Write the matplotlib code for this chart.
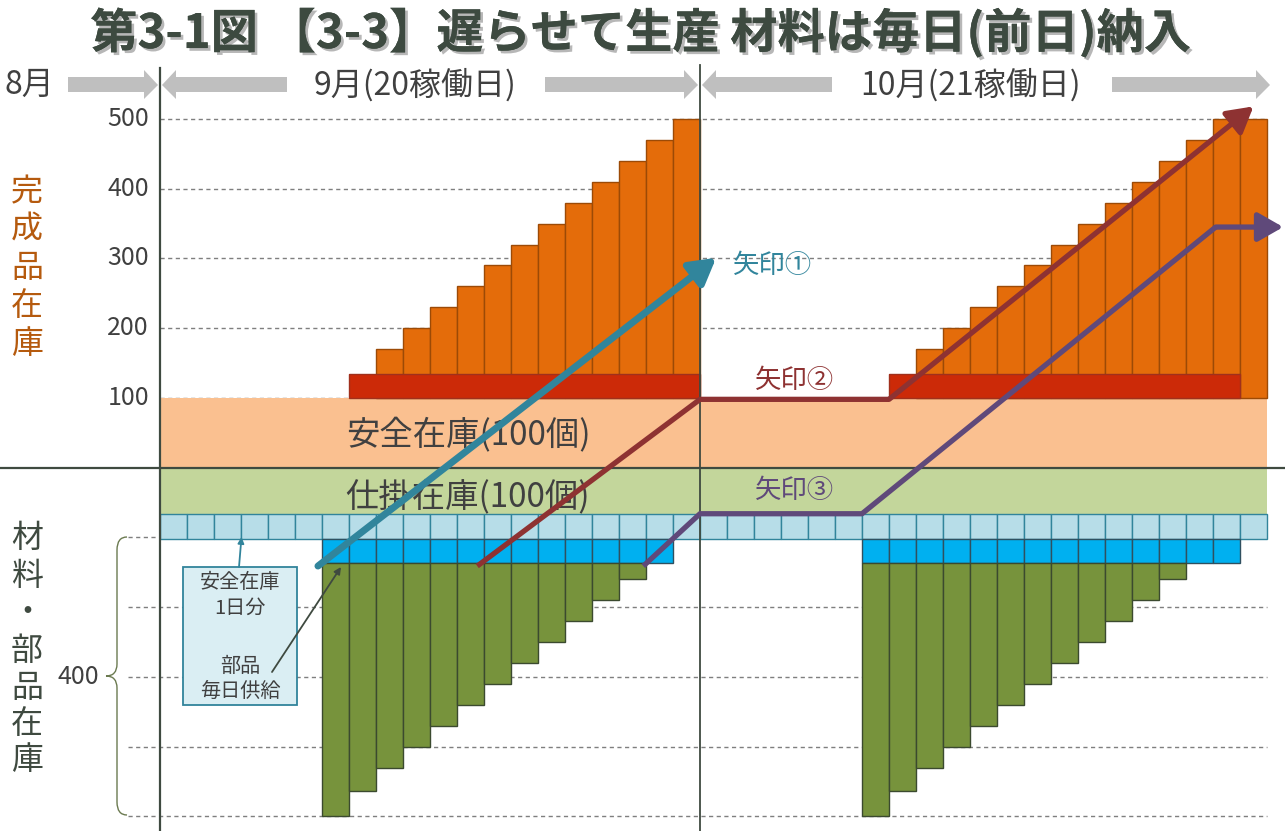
import matplotlib.pyplot as plt
import matplotlib.patheffects as pe
from matplotlib.patches import Rectangle, Polygon, PathPatch
from matplotlib.path import Path

plt.rcParams['font.family'] = ['Noto Sans CJK JP', 'DejaVu Sans']

# ---- data ----
sep_workdays = 20
oct_workdays = 21
total_days = sep_workdays + oct_workdays

# finished goods stock (完成品在庫), bars standing on the safety stock
fg_days = list(range(8, 20)) + list(range(28, 41))
fg_stock = [170, 200, 230, 260, 290, 320, 350, 380, 410, 440, 470, 500,
            170, 200, 230, 260, 290, 320, 350, 380, 410, 440, 470, 500, 500]
safety_stock = 100

# daily production (red band)
prod_days = list(range(7, 20)) + list(range(27, 40))
prod_lot = 35

# work in process band / 1-day parts buffer
wip_bottom = -67
buffer_bottom = -102

# daily parts supply (cyan) and parts stock (green bars)
supply_days = list(range(6, 19)) + list(range(26, 40))
supply_bottom = -137
parts_days = list(range(6, 18)) + list(range(26, 38))
parts_stock = [400, 364, 330, 300, 270, 240, 210, 180, 150, 120, 90, 60,
               400, 364, 330, 300, 270, 240, 210, 180, 150, 120, 90, 60]
parts_zero = -100

upper_ticks = [100, 200, 300, 400, 500]
lower_grid = [0, 100, 200, 300, 400]

# arrows: (day, stock)
arrow1 = [(5.85, -141), (20.6, 301)]
arrow2 = [(11.75, -141), (20.0, 98), (27.0, 98), (40.5, 518)]
arrow3 = [(17.9, -141), (20.0, -66), (26.0, -66), (39.1, 345), (41.6, 345)]

# ---- layout helpers (pixel -> data) ----
W, H = 1285, 831
X0, DX = 160, 27.0
Y0, DY = 467.7, 0.6975


def px(x):
    return (x - X0) / DX


def py(y):
    return (Y0 - y) / DY


dark = '#3F4A40'
fig = plt.figure(figsize=(W / 100, H / 100), dpi=100)
ax = fig.add_axes([0, 0, 1, 1])
ax.set_xlim(px(0), px(W))
ax.set_ylim(py(H), py(0))
ax.axis('off')

# grid lines
for t in upper_ticks:
    ax.plot([0, total_days], [t, t], color='#7F7F7F', lw=1, dashes=(3, 2.5), zorder=1)
    ax.text(px(149), t, str(t), ha='right', va='center', fontsize=18, color='#404040')
for g in lower_grid:
    ax.plot([px(128), total_days], [parts_zero - g, parts_zero - g], color='#7F7F7F',
            lw=1, dashes=(3, 2.5), zorder=1)

# safety stock and wip bands
ax.add_patch(Rectangle((0, 0), total_days, safety_stock, fc='#FAC090', ec='none', zorder=2))
ax.add_patch(Rectangle((0, wip_bottom), total_days, -wip_bottom, fc='#C3D69B', ec='none', zorder=2))
ax.bar(range(total_days), buffer_bottom - wip_bottom, bottom=wip_bottom, width=1, align='edge',
       color='#B7DDE8', edgecolor='#31849B', lw=1, zorder=3)

# finished goods
ax.bar(fg_days, [s - safety_stock for s in fg_stock], bottom=safety_stock, width=1, align='edge',
       color='#E46C0A', edgecolor='#9C4A06', lw=1, zorder=3)
ax.bar(prod_days, prod_lot, bottom=safety_stock, width=1, align='edge',
       color='#CC2A08', edgecolor='none', lw=0, zorder=4)
for start, end in [(7, 20), (27, 40)]:
    ax.add_patch(Rectangle((start, safety_stock), end - start, prod_lot, fc='none',
                           ec='#A0301C', lw=1, zorder=4))

# parts
ax.bar(supply_days, supply_bottom - buffer_bottom, bottom=buffer_bottom, width=1, align='edge',
       color='#00B0F0', edgecolor='#2F5060', lw=1, zorder=3)
ax.bar(parts_days, [parts_zero - s - supply_bottom for s in parts_stock], bottom=supply_bottom,
       width=1, align='edge', color='#77933C', edgecolor='#3B4A2F', lw=1, zorder=3)

# axes lines
ax.plot([px(0), px(W)], [0, 0], color=dark, lw=1.6, zorder=5)
ax.plot([0, 0], [py(68), py(H)], color=dark, lw=1.6, zorder=5)
ax.plot([sep_workdays, sep_workdays], [py(65), py(H)], color=dark, lw=1.3, zorder=5)

# big arrows
for pts, col, lw in [(arrow1, '#31859C', 5.0), (arrow2, '#8E3232', 3.8), (arrow3, '#5F497A', 3.8)]:
    xs = [p[0] for p in pts]
    ys = [p[1] for p in pts]
    ax.plot(xs[:-1], ys[:-1], color=col, lw=lw, zorder=6, solid_capstyle='butt')
    ax.annotate('', xy=pts[-1], xytext=pts[-2], zorder=6,
                arrowprops=dict(arrowstyle='-|>,head_length=0.7,head_width=0.4', color=col, lw=lw,
                                mutation_scale=22, shrinkA=0, shrinkB=0))

ax.text(px(733), py(265), '矢印①', ha='left', va='center', fontsize=19, color='#31859C', zorder=7)
ax.text(px(795), py(380), '矢印②', ha='center', va='center', fontsize=19, color='#8E3232', zorder=7)
ax.text(px(795), py(490), '矢印③', ha='center', va='center', fontsize=19, color='#5F497A', zorder=7)

ax.text(px(468), py(436), '安全在庫(100個)', ha='center', va='center', fontsize=24, color='#404040', zorder=5)
ax.text(px(468), py(497), '仕掛在庫(100個)', ha='center', va='center', fontsize=24, color='#404040', zorder=5)

# note box
ax.add_patch(Rectangle((px(183), py(705)), px(297) - px(183), py(567) - py(705),
                       fc='#DAEEF3', ec='#31849B', lw=1.3, zorder=7))
for s, y in [('安全在庫', 583), ('1日分', 608), ('部品', 666), ('毎日供給', 691)]:
    ax.text(px(240), py(y), s, ha='center', va='center', fontsize=14.5, color='#404040', zorder=8)
ax.annotate('', xy=(px(241.5), py(537)), xytext=(px(239), py(567)), zorder=8,
            arrowprops=dict(arrowstyle='-|>', color='#31849B', lw=1.3, mutation_scale=9,
                            shrinkA=0, shrinkB=0))
ax.annotate('', xy=(px(341), py(567)), xytext=(px(272), py(672)), zorder=8,
            arrowprops=dict(arrowstyle='-|>', color=dark, lw=1.3, mutation_scale=10,
                            shrinkA=0, shrinkB=0))

# left side labels
for i, ch in enumerate('完成品在庫'):
    ax.text(px(27), py(192 + 38 * i), ch, ha='center', va='center', fontsize=23, color='#B55A0E')
for ch, y in zip('材料・部品在庫', [538, 576, 613, 651, 688, 724, 760]):
    ax.text(px(27), py(y), ch, ha='center', va='center', fontsize=23, color=dark)
ax.text(px(99), py(677), '400', ha='right', va='center', fontsize=18, color='#404040')

brace = [(127, 537), (117, 537), (117, 550), (117, 664), (117, 676), (106, 676),
         (106, 676), (117, 676), (117, 688), (117, 802), (117, 815), (127, 815)]
codes = [Path.MOVETO, Path.CURVE3, Path.CURVE3, Path.LINETO, Path.CURVE3, Path.CURVE3,
         Path.MOVETO, Path.CURVE3, Path.CURVE3, Path.LINETO, Path.CURVE3, Path.CURVE3]
ax.add_patch(PathPatch(Path([(px(x), py(y)) for x, y in brace], codes),
                       fc='none', ec='#6B7A50', lw=1))

# month header arrows
gray = '#BFBFBF'


def header_arrow(tail, tip):
    d = 1 if tip > tail else -1
    base = tip - d * 14
    pts = [(tail, 77), (base, 77), (base, 70), (tip, 85), (base, 99), (base, 92), (tail, 92)]
    ax.add_patch(Polygon([(px(x), py(y)) for x, y in pts], fc=gray, ec='none', zorder=4))


header_arrow(68, 158)
header_arrow(287, 162)
header_arrow(545, 698)
header_arrow(832, 702)
header_arrow(1112, 1270)
ax.text(px(29), py(85), '8月', ha='center', va='center', fontsize=23, color='#404040')
ax.text(px(415), py(85), '9月(20稼働日)', ha='center', va='center', fontsize=23, color='#404040')
ax.text(px(971), py(85), '10月(21稼働日)', ha='center', va='center', fontsize=23, color='#404040')

# title
ax.text(px(641), py(33), '第3-1図 【3-3】遅らせて生産 材料は毎日(前日)納入', ha='center', va='center',
        fontsize=34, fontweight='bold', color='#3D4A40',
        path_effects=[pe.withSimplePatchShadow(offset=(2, -2), shadow_rgbFace='#888888', alpha=0.6),
                      pe.Normal()])

fig.savefig('out.png', dpi=100)
